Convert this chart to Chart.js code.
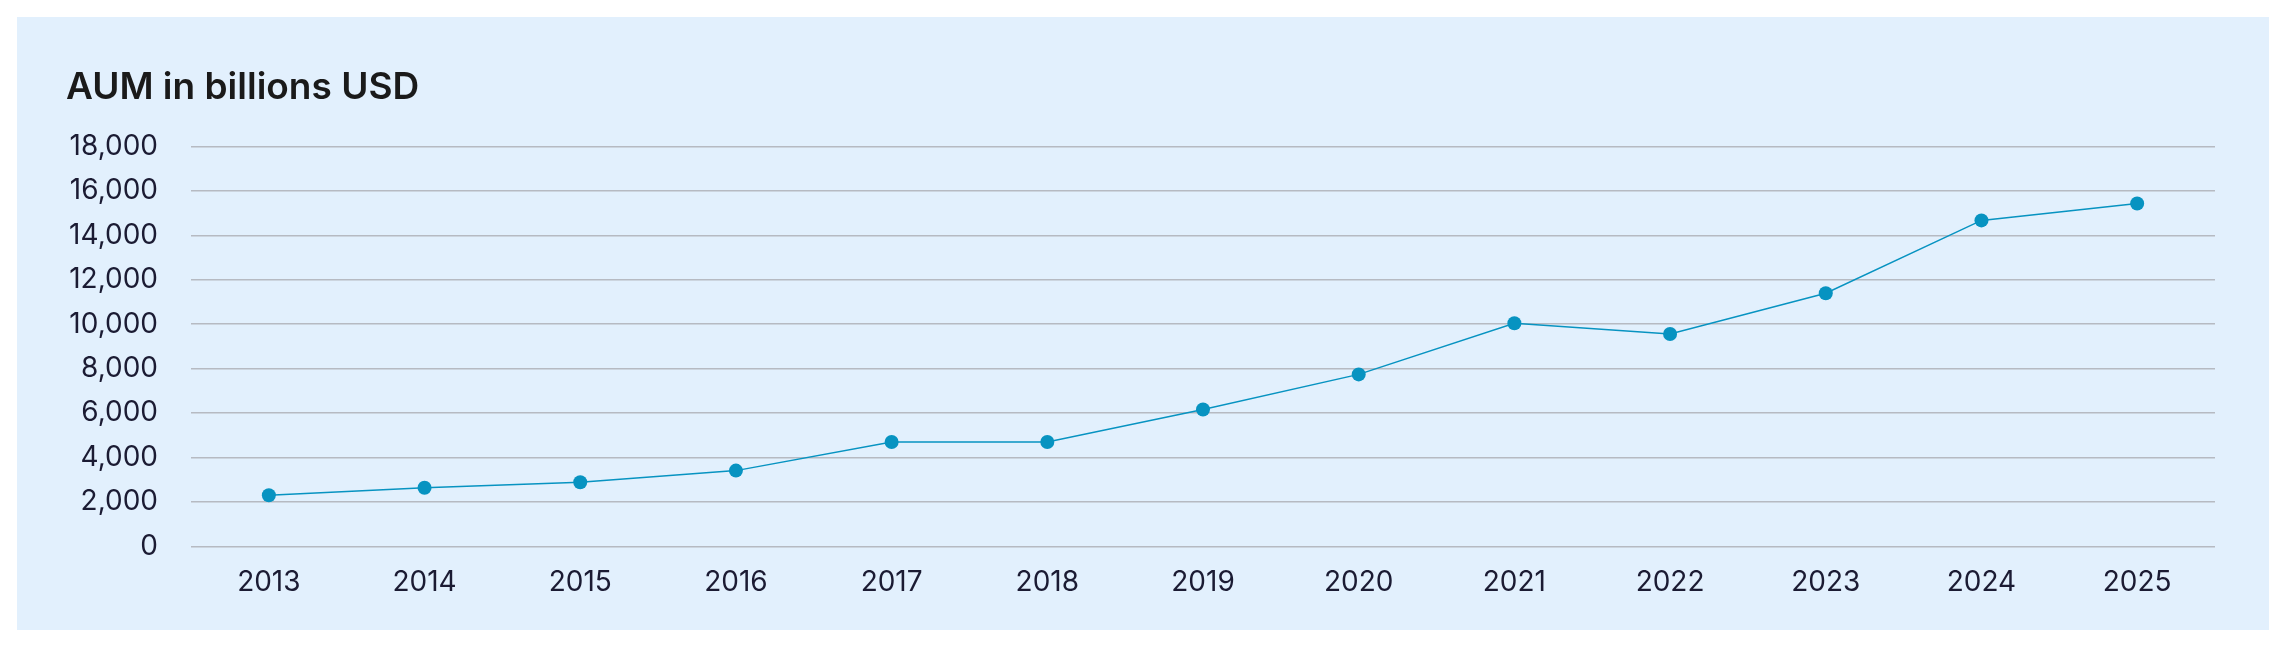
<!DOCTYPE html>
<html>
<head>
<meta charset="utf-8">
<script src="https://cdn.jsdelivr.net/npm/chart.js@4"></script>
<style>
  html, body { margin: 0; padding: 0; background: #ffffff; }
  #panel {
    position: absolute;
    left: 17px;
    top: 17px;
    width: 2252px;
    height: 613px;
    background: #e2f0fd;
  }
</style>
</head>
<body>
<div id="panel"><canvas id="grafico"></canvas></div>
<script>
// === dados ===
const anos = ['2013', '2014', '2015', '2016', '2017', '2018', '2019', '2020', '2021', '2022', '2023', '2024', '2025'];
const aum = [2300, 2640, 2890, 3410, 4700, 4700, 6160, 7740, 10040, 9560, 11390, 14670, 15430];
const titulo = 'AUM in billions USD';
const eixoMin = 0;
const eixoMax = 18000;
const passo = 2000;

const corLinha = '#0793c1';
const corTexto = '#1b1b33';
const corGrade = '#b6bac2';

const ctx = document.getElementById('grafico').getContext('2d');

new Chart(ctx, {
  type: 'line',
  data: {
    labels: anos,
    datasets: [{
      label: 'AUM',
      data: aum,
      borderColor: corLinha,
      backgroundColor: corLinha,
      pointBackgroundColor: corLinha,
      pointBorderWidth: 0,
      pointRadius: 7,
      borderWidth: 1.5,
      tension: 0
    }]
  },
  options: {
    responsive: true,
    maintainAspectRatio: false,
    animation: false,
    layout: {
      padding: { top: 27, left: 49, right: 54, bottom: 20 }
    },
    plugins: {
      legend: { display: false },
      tooltip: { enabled: false },
      title: {
        display: true,
        text: titulo,
        align: 'start',
        color: '#1a1a1a',
        font: { family: 'Inter', size: 37, weight: '600' },
        padding: { top: 22, bottom: 36 }
      }
    },
    scales: {
      x: {
        offset: true,
        grid: { display: false },
        border: { display: false },
        ticks: {
          color: corTexto,
          font: { family: 'Inter', size: 28 },
          padding: 11,
          maxRotation: 0
        }
      },
      y: {
        min: eixoMin,
        max: eixoMax,
        border: { display: false },
        grid: { color: corGrade, lineWidth: 1.5, drawTicks: false },
        ticks: {
          stepSize: passo,
          color: corTexto,
          font: { family: 'Inter', size: 28 },
          padding: 33
        },
        afterFit: (scale) => { scale.width = 125; }
      }
    }
  }
});
</script>
</body>
</html>
